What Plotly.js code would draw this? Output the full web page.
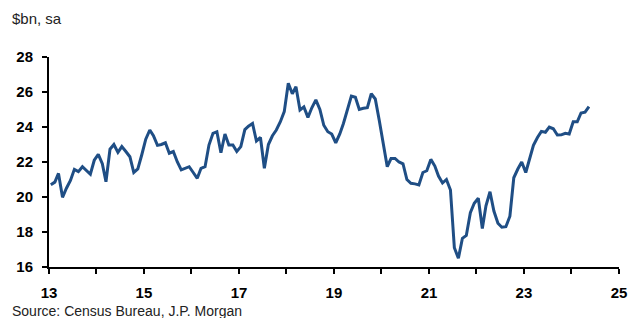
<!DOCTYPE html>
<html>
<head>
<meta charset="utf-8">
<script src="https://cdn.plot.ly/plotly-3.0.1.min.js"></script>
<style>
  html, body { margin: 0; padding: 0; background: #ffffff; }
  #chart { width: 630px; height: 318px; }
</style>
</head>
<body>
<div id="chart"></div>
<script>
// Monthly values, $bn, seasonally adjusted, Jan 2013 - May 2024
var startYear = 2013;
var values = [
  // 2013
  20.7, 20.85, 21.35, 19.98, 20.5, 20.95, 21.58, 21.45, 21.73, 21.5, 21.3, 22.1,
  // 2014
  22.44, 21.9, 20.87, 22.73, 23.0, 22.55, 22.88, 22.6, 22.3, 21.4, 21.6, 22.4,
  // 2015
  23.3, 23.83, 23.5, 22.95, 23.0, 23.1, 22.5, 22.6, 22.0, 21.55, 21.64, 21.73,
  // 2016
  21.4, 21.07, 21.64, 21.73, 22.97, 23.64, 23.73, 22.53, 23.6, 22.97, 22.97, 22.6,
  // 2017
  22.88, 23.85, 24.05, 24.2, 23.2, 23.4, 21.64, 23.0, 23.5, 23.83, 24.3, 24.88,
  // 2018
  26.5, 25.9, 26.3, 24.97, 25.15, 24.55, 25.1, 25.55, 25.0, 24.1, 23.73, 23.6,
  // 2019
  23.1, 23.6, 24.2, 25.0, 25.77, 25.7, 25.0, 25.07, 25.1, 25.9, 25.6, 24.4,
  // 2020
  23.0, 21.73, 22.2, 22.2, 22.0, 21.9, 21.0, 20.78, 20.75, 20.69, 21.4, 21.5,
  // 2021
  22.15, 21.77, 21.2, 20.8, 21.0, 20.4, 17.1, 16.5, 17.64, 17.8, 19.1, 19.64,
  // 2022
  19.93, 18.2, 19.5, 20.3, 19.2, 18.5, 18.27, 18.3, 18.9, 21.1, 21.6, 22.0,
  // 2023
  21.4, 22.3, 22.95, 23.4, 23.75, 23.7, 24.0, 23.9, 23.54, 23.55, 23.64, 23.6,
  // 2024
  24.3, 24.3, 24.8, 24.85, 25.16
];
var yTickVals = [16, 18, 20, 22, 24, 26, 28];
var unitLabel = "$bn, sa";
var sourceLabel = "Source: Census Bureau, J.P. Morgan";

function pad(n) { return (n < 10 ? "0" : "") + n; }
var dates = values.map(function (v, i) {
  var y = startYear + Math.floor(i / 12);
  var m = (i % 12) + 1;
  return y + "-" + pad(m) + "-15";
});

var trace = {
  x: dates,
  y: values,
  type: "scatter",
  mode: "lines",
  line: { color: "#1f4e85", width: 3 },
  hoverinfo: "skip"
};

var layout = {
  width: 630,
  height: 318,
  margin: { l: 49, r: 11, t: 57, b: 51 },
  paper_bgcolor: "#ffffff",
  plot_bgcolor: "#ffffff",
  showlegend: false,
  font: { family: "Liberation Sans, Arial, sans-serif", color: "#000000" },
  xaxis: {
    type: "date",
    range: ["2013-01-01", "2025-01-01"],
    tick0: "2013-01-01",
    dtick: "M24",
    tickformat: "%y",
    ticks: "outside",
    ticklen: 5,
    tickwidth: 2,
    tickcolor: "#000000",
    showline: true,
    linecolor: "#000000",
    linewidth: 2,
    showgrid: false,
    zeroline: false,
    tickfont: { family: "Liberation Sans, Arial, sans-serif", size: 15, color: "#000000", weight: "bold" },
    ticklabelstandoff: 6,
    minor: { dtick: "M12", tick0: "2013-01-01", ticks: "outside", ticklen: 5, tickwidth: 2, tickcolor: "#000000", showgrid: false }
  },
  yaxis: {
    range: [16, 28],
    tickvals: yTickVals,
    ticktext: yTickVals.map(String),
    ticks: "outside",
    ticklen: 5,
    tickwidth: 2,
    tickcolor: "#000000",
    showline: true,
    linecolor: "#000000",
    linewidth: 2,
    showgrid: false,
    zeroline: false,
    tickfont: { family: "Liberation Sans, Arial, sans-serif", size: 15, color: "#000000", weight: "bold" },
    ticklabelstandoff: 6
  },
  annotations: [
    {
      text: unitLabel, xref: "paper", yref: "paper",
      x: -39 / 570, y: 1 + 39 / 210, xanchor: "left", yanchor: "middle",
      showarrow: false,
      font: { family: "Liberation Sans, Arial, sans-serif", size: 15, color: "#222222" }
    },
    {
      text: sourceLabel, xref: "paper", yref: "paper",
      x: -39 / 570, y: -44 / 210, xanchor: "left", yanchor: "middle",
      showarrow: false,
      font: { family: "Liberation Sans, Arial, sans-serif", size: 14, color: "#222222" }
    }
  ]
};

Plotly.newPlot("chart", [trace], layout, { displayModeBar: false, staticPlot: true });
</script>
</body>
</html>
